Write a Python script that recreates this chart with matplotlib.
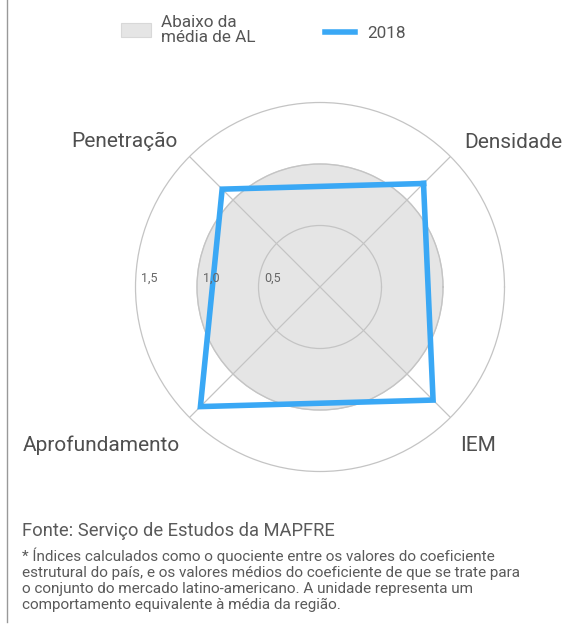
import numpy as np
import matplotlib
matplotlib.use("Agg")
import matplotlib.pyplot as plt
from matplotlib.lines import Line2D
from matplotlib.patches import Patch
from matplotlib.transforms import offset_copy

plt.rcParams['font.family'] = ['Roboto', 'DejaVu Sans']

# data
categories = ['Densidade', 'Penetração', 'Aprofundamento', 'IEM']
angles_deg = [45, 135, 225, 315]
values_2018 = [1.19, 1.125, 1.375, 1.30]
average_level = 1.0
ring_values = [0.5, 1.0, 1.5]
ring_labels = ['0,5', '1,0', '1,5']
legend_labels = ['Abaixo da\nmédia de AL', '2018']

W, H = 563, 631
fig = plt.figure(figsize=(W / 100, H / 100), dpi=100)

# polar axes: centre at (320, 287) px, radius 1.5 -> 184.5 px
cx, cy, R = 320, 287, 184.5
ax = fig.add_axes([(cx - R) / W, (H - cy - R) / H, 2 * R / W, 2 * R / H],
                  projection='polar')

grid_col = '#c4c4c4'
ax.set_ylim(0, 1.5)
ax.set_thetagrids(angles_deg, [''] * 4)
ax.set_rgrids([0.5, 1.0], ['', ''])
ax.grid(color=grid_col, linewidth=0.9)
ax.spines['polar'].set_color(grid_col)
ax.spines['polar'].set_linewidth(0.9)
ax.tick_params(length=0)

theta_full = np.linspace(0, 2 * np.pi, 361)
ax.fill(theta_full, np.full_like(theta_full, average_level),
        facecolor='#e5e5e5', edgecolor='#d2d2d2', linewidth=0.9, zorder=1)

th = np.deg2rad(angles_deg + angles_deg[:1])
vals = values_2018 + values_2018[:1]
ax.plot(th, vals, color='#3aa8f5', linewidth=4, solid_joinstyle='miter', zorder=3)

# ring labels on the left horizontal
lab_tr = offset_copy(ax.transData, fig=fig, x=6, y=2, units='dots')
for r, lab in zip(ring_values, ring_labels):
    ax.text(np.pi, r, lab, transform=lab_tr, ha='left', va='bottom',
            fontsize=9, color='#666666')

# category labels
txt_col = '#4f4f4f'
fs_cat = 15
fig.text(464 / W, 1 - 148 / H, 'Densidade', ha='left', va='baseline', fontsize=fs_cat, color=txt_col)
fig.text(178 / W, 1 - 147 / H, 'Penetração', ha='right', va='baseline', fontsize=fs_cat, color=txt_col)
fig.text(180 / W, 1 - 451 / H, 'Aprofundamento', ha='right', va='baseline', fontsize=fs_cat, color=txt_col)
fig.text(460 / W, 1 - 451 / H, 'IEM', ha='left', va='baseline', fontsize=fs_cat, color=txt_col)

# legend
leg1 = fig.legend(handles=[Patch(facecolor='#e5e5e5', edgecolor='#d8d8d8', linewidth=0.8)],
                  labels=[legend_labels[0]], loc='center left',
                  bbox_to_anchor=(121 / W, 1 - 30 / H), frameon=False,
                  fontsize=12.3, handlelength=1.75, handleheight=0.9,
                  handletextpad=0.62, borderpad=0, borderaxespad=0,
                  labelcolor='#555555')
leg1.get_texts()[0].set_linespacing(1.05)
leg2 = fig.legend(handles=[Line2D([0], [0], color='#3aa8f5', linewidth=4)],
                  labels=[legend_labels[1]], loc='center left',
                  bbox_to_anchor=(325 / W, 1 - 33 / H), frameon=False,
                  fontsize=12.3, handlelength=1.75, handletextpad=0.72,
                  borderpad=0, borderaxespad=0, labelcolor='#555555')

# footer
fig.text(22 / W, 1 - 536 / H, 'Fonte: Serviço de Estudos da MAPFRE', ha='left',
         va='baseline', fontsize=13.2, color='#5a5a5a')
notes = ['* Índices calculados como o quociente entre os valores do coeficiente',
         'estrutural do país, e os valores médios do coeficiente de que se trate para',
         'o conjunto do mercado latino-americano. A unidade representa um',
         'comportamento equivalente à média da região.']
for i, line in enumerate(notes):
    fig.text(22 / W, 1 - (561 + 16 * i) / H, line, ha='left', va='baseline',
             fontsize=11, color='#5a5a5a')

# left border line
fig.add_artist(Line2D([7.5 / W, 7.5 / W], [1, 1 - 622 / H], transform=fig.transFigure,
                      color='#999999', linewidth=1))

fig.savefig('out.png', dpi=100)
